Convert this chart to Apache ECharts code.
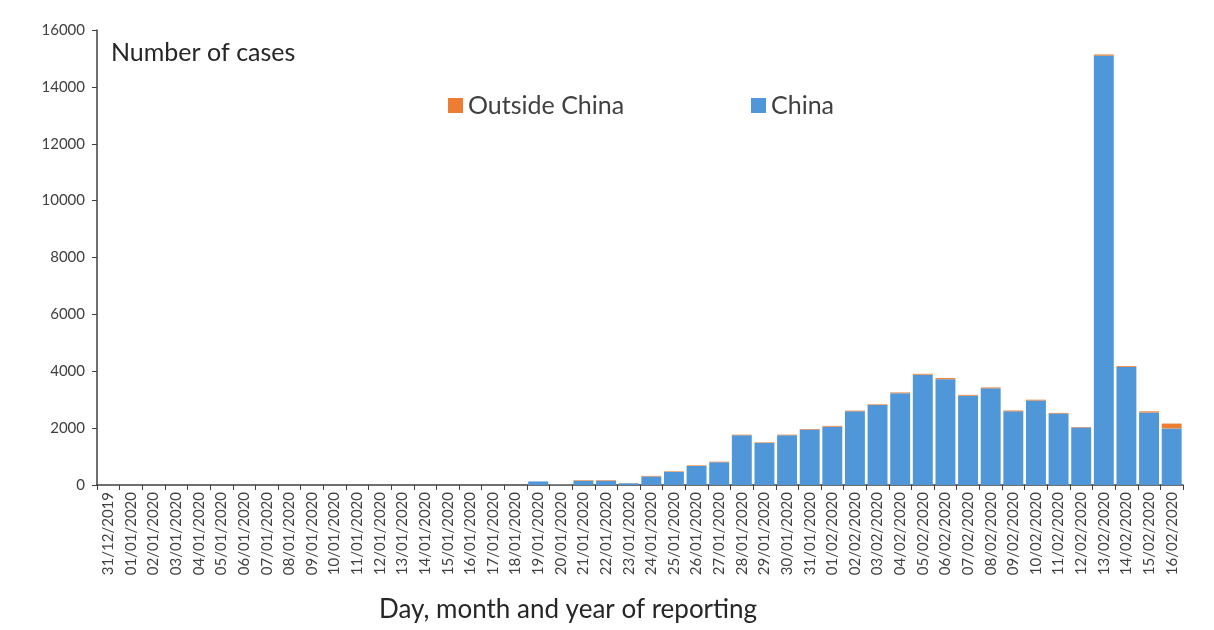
<!DOCTYPE html>
<html>
<head>
<meta charset="utf-8">
<script src="https://cdn.jsdelivr.net/npm/echarts@6/dist/echarts.min.js"></script>
<style>
html,body{margin:0;padding:0;background:#fff;}
#c{width:1214px;height:630px;}
</style>
</head>
<body>
<div id="c"></div>
<script>
const categories = [
 '31/12/2019','01/01/2020','02/01/2020','03/01/2020','04/01/2020','05/01/2020','06/01/2020','07/01/2020',
 '08/01/2020','09/01/2020','10/01/2020','11/01/2020','12/01/2020','13/01/2020','14/01/2020','15/01/2020',
 '16/01/2020','17/01/2020','18/01/2020','19/01/2020','20/01/2020','21/01/2020','22/01/2020','23/01/2020',
 '24/01/2020','25/01/2020','26/01/2020','27/01/2020','28/01/2020','29/01/2020','30/01/2020','31/01/2020',
 '01/02/2020','02/02/2020','03/02/2020','04/02/2020','05/02/2020','06/02/2020','07/02/2020','08/02/2020',
 '09/02/2020','10/02/2020','11/02/2020','12/02/2020','13/02/2020','14/02/2020','15/02/2020','16/02/2020'
];
const chinaCases = [
 0,0,0,0,0,0,0,0,
 0,0,0,0,0,0,0,0,
 0,0,0,125,20,150,150,60,
 300,460,670,800,1750,1480,1750,1950,
 2050,2590,2810,3230,3880,3720,3140,3400,
 2590,2970,2510,2020,15100,4150,2550,1990
];
const outsideCases = [
 0,0,0,0,0,0,0,0,
 0,0,0,0,0,0,0,0,
 0,0,0,0,10,20,20,5,
 20,20,20,20,20,20,20,20,
 30,25,25,25,30,40,30,30,
 30,30,25,20,40,30,40,170
];
const yTicks = {min:0, max:16000, interval:2000};

const chart = echarts.init(document.getElementById('c'));
const FONT = 'Lato, "Noto Sans", sans-serif';
chart.setOption({
  animation:false,
  backgroundColor:'#fff',
  textStyle:{fontFamily:FONT},
  title:[
    {text:'Number of cases', left:106, top:35, textStyle:{fontSize:25, fontWeight:'normal', color:'#262626', fontFamily:FONT}},
    {text:'Day, month and year of reporting', left:374, top:592, textStyle:{fontSize:26, fontWeight:'normal', color:'#262626', fontFamily:FONT}}
  ],
  legend:[
    {data:['Outside China'], left:443, top:88, itemWidth:15, itemHeight:15, icon:'rect', itemGap:8,
     textStyle:{fontSize:25, color:'#404040', fontFamily:FONT}},
    {data:['China'], left:746, top:88, itemWidth:15, itemHeight:15, icon:'rect', itemGap:8,
     textStyle:{fontSize:25, color:'#404040', fontFamily:FONT}}
  ],
  grid:{left:97, right:31, top:30, bottom:145, containLabel:false},
  xAxis:{
    type:'category', data:categories,
    axisLine:{lineStyle:{color:'#404040', width:1.5}},
    axisTick:{show:true, length:5, lineStyle:{color:'#404040'}},
    axisLabel:{interval:0, rotate:90, fontSize:15, color:'#404040', margin:7, fontFamily:FONT}
  },
  yAxis:{
    type:'value', min:yTicks.min, max:yTicks.max, interval:yTicks.interval,
    axisLine:{show:true, lineStyle:{color:'#404040', width:1.5}},
    axisTick:{show:true, inside:false, length:5, lineStyle:{color:'#404040'}},
    splitLine:{show:false},
    axisLabel:{fontSize:15, color:'#404040', margin:12, fontFamily:FONT, formatter:function(v){return String(v);}}
  },
  series:[
    {name:'China', type:'bar', stack:'a', data:chinaCases, barCategoryGap:'12%',
     itemStyle:{color:'#4f97d9'}},
    {name:'Outside China', type:'bar', stack:'a', data:outsideCases,
     itemStyle:{color:'#ed7d31'}}
  ]
});
</script>
</body>
</html>
